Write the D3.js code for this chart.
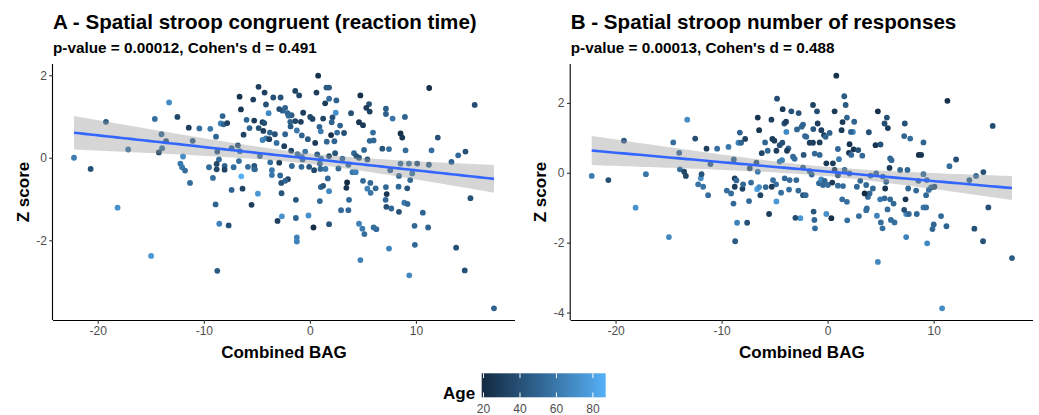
<!DOCTYPE html>
<html>
<head>
<meta charset="utf-8">
<script src="https://cdn.jsdelivr.net/npm/d3@7"></script>
<style>
  body { margin: 0; background: #fff; }
  svg text { font-family: "Liberation Sans", Arial, sans-serif; }
  .tick text { fill: #4d4d4d; font-size: 12px; }
  .title { font-size: 20.6px; font-weight: bold; fill: #000; }
  .subtitle { font-size: 15.3px; font-weight: bold; fill: #000; }
  .axis-title { font-size: 17px; font-weight: bold; fill: #000; }
</style>
</head>
<body>
<div id="chart"></div>
<script>
// [Combined BAG, Z score, Age]
var pointsA = [
  [-22.24,0.00,62],[-20.67,-0.27,40],[-19.23,0.87,45],[-18.13,-1.21,72],[-17.13,0.20,58],
  [-14.97,-2.38,75],[-14.62,0.94,55],[-13.27,1.34,70],[-12.49,0.99,35],[-13.99,0.57,52],
  [-13.56,0.40,42],[-13.93,0.23,58],[-14.24,0.13,35],[-11.96,0.03,70],[-12.21,-0.14,60],
  [-12.05,-0.23,60],[-11.77,-0.31,55],[-11.30,-0.61,55],[-11.42,0.73,30],[-11.05,0.41,48],
  [-10.42,0.71,55],[-9.39,0.70,60],[-8.85,0.51,50],[-8.73,0.15,45],[-8.57,-0.04,55],
  [-8.79,-0.15,35],[-8.79,-0.28,35],[-9.51,-0.23,55],[-9.14,-0.49,55],[-8.89,-1.13,50],
  [-8.54,-1.60,65],[-7.66,-1.64,40],[-8.73,-2.74,45],[-8.23,1.01,50],[-8.41,0.83,65],
  [-8.13,0.81,50],[-7.79,0.84,32],[-8.04,-0.20,50],[-8.04,-0.29,33],[-7.38,0.23,50],
  [-7.19,-0.23,55],[-6.79,0.30,42],[-6.69,-0.08,55],[-6.60,0.16,60],[-7.38,-0.78,50],
  [-6.47,-0.45,87],[-6.35,-0.75,33],[-6.63,1.48,24],[-6.50,1.17,25],[-5.97,0.92,50],
  [-6.25,0.56,33],[-5.69,0.72,50],[-5.34,1.41,30],[-5.25,0.90,28],[-5.84,-0.22,55],
  [-5.25,-0.27,55],[-5.50,-1.14,30],[-4.90,-0.87,75],[-4.84,1.72,30],
  [0.78,1.99,24],[-4.27,1.58,30],[-3.45,1.46,40],[-2.76,1.46,40],[-1.38,1.62,33],
  [-1.01,1.51,35],[0.62,1.58,30],[1.56,1.70,45],[1.81,1.70,45],[1.44,1.32,28],
  [1.81,1.43,55],[2.50,1.39,50],[4.76,1.51,22],[5.58,1.30,40],[5.32,1.21,28],
  [5.64,1.12,30],[11.25,1.69,22],[15.54,1.28,38],[7.17,1.19,48],[7.17,1.06,48],
  [7.80,0.95,58],[8.96,0.99,50],[3.88,1.08,40],[2.44,1.09,72],[2.13,0.98,40],
  [2.06,0.86,50],[2.85,0.78,50],[2.57,0.61,55],[2.00,0.55,22],[3.22,0.60,40],
  [2.31,0.40,50],[1.59,0.39,50],[1.25,0.95,33],[0.90,0.75,50],[1.03,0.64,62],
  [0.25,0.94,33],[0.03,0.99,35],[-0.63,1.09,30],[-0.85,0.87,30],[-1.38,0.89,35],
  [-1.85,0.87,50],[-1.73,1.03,45],[-2.33,1.21,50],[-2.58,1.14,50],[-2.89,1.18,40],
  [-2.10,1.08,50],[-2.01,1.02,52],[-3.89,1.08,68],[-4.14,1.29,40],[-4.46,0.86,30],
  [-4.30,0.84,40],[-4.83,0.72,40],[-4.39,0.65,30],[-3.77,0.61,50],[-3.30,0.57,40],
  [-4.14,0.47,60],[-4.46,0.43,65],[-3.83,0.45,30],[-3.14,0.36,55],[-2.33,0.57,50],
  [-1.82,0.76,45],[-1.23,0.66,60],[-0.76,0.54,50],[-0.19,0.45,45],[0.50,0.36,28],
  [-2.42,0.28,30],[-1.76,0.17,35],[-1.16,0.09,55],[-0.44,0.15,60],[-0.76,0.02,60],
  [-0.69,-0.04,52],[-2.89,-0.12,30],[-4.71,0.04,55],[-3.74,-0.11,55],[-5.24,-0.20,42],
  [-5.18,-0.28,52],[-3.58,-0.30,60],[-3.58,-0.42,60],[-2.80,-0.43,52],[-2.07,-0.52,35],
  [-2.70,-0.61,40],[-2.33,-0.56,50],[-0.79,-0.22,52],[-0.07,-0.22,42],[0.40,-0.30,35],
  [1.00,-0.27,52],[1.47,-0.27,60],[0.69,0.08,45],[0.94,-0.14,52],[1.06,-0.02,62],
  [1.81,0.04,35],[2.38,0.11,42],[2.69,-0.26,52],[3.07,-0.02,52],[3.63,-0.17,52],
  [4.16,0.11,52],[4.38,0.04,42],[4.63,0.00,42],[5.42,-0.04,42],[4.01,-0.35,60],
  [4.32,-0.35,65],[5.01,-0.56,52],[5.70,-0.61,52],[5.42,-0.75,65],[5.73,-0.85,58],
  [6.20,-0.74,52],[3.51,-0.60,19],[3.44,-0.73,25],[1.03,-0.71,52],[1.25,-0.68,42],
  [1.81,-0.81,68],[3.69,-1.02,52],[2.94,-1.27,52],[3.63,-1.27,52],[0.94,-1.05,52],
  [-1.32,-1.02,42],[-2.67,-0.86,42],[-2.64,-1.42,72],[-3.05,-1.53,30],[-1.32,-1.46,50],
  [-0.13,-1.40,72],[0.34,-1.69,22],[1.81,-1.61,42],[-1.23,-1.93,65],[-1.23,-2.03,65],
  [4.63,-1.60,65],[4.95,-1.72,62],[5.14,-1.85,55],[6.01,-1.69,55],[6.27,-1.73,55],
  [4.76,-2.48,65],[7.46,-2.20,65],[7.17,-0.71,52],[7.24,-0.88,25],[7.14,-1.02,52],
  [7.21,-1.19,40],[7.68,-1.23,52],[8.40,-1.31,40],[8.90,-1.09,60],[9.21,-1.12,52],
  [8.36,-0.70,52],[9.18,-0.74,42],[9.46,-0.54,52],[9.65,-0.38,58],[8.40,-0.44,52],
  [7.58,-0.30,52],[8.55,-0.14,55],[9.34,-0.14,55],[10.12,-0.14,42],[11.22,-0.17,50],
  [6.83,0.22,42],[7.46,0.21,55],[9.02,0.18,55],[11.47,0.18,55],[8.55,0.59,22],
  [8.71,0.49,25],[5.95,0.61,55],[5.64,0.41,52],[6.01,0.42,52],[4.63,0.86,25],
  [5.01,0.79,28],[9.87,-1.65,52],[10.65,-1.33,50],[11.15,-1.69,50],[9.90,-2.11,52],
  [9.37,-2.85,68],[12.06,0.49,40],[13.35,-0.10,50],[13.98,0.06,52],[14.67,0.15,40],
  [15.14,-0.98,40],[13.79,-2.18,40],[14.60,-2.73,40],[17.36,-3.65,50],[-1.70,-0.20,52],
  [1.69,-0.50,52],[5.11,0.19,52]
];

var pointsB = [
  [-22.25,-0.09,62],[-20.68,-0.21,40],[-19.21,0.92,45],[-18.11,-1.00,72],[-17.14,-0.04,58],
  [-14.97,-1.84,68],[-14.56,0.87,55],[-13.24,1.52,70],[-12.49,0.98,38],[-14.00,0.57,52],
  [-13.93,0.10,55],[-13.53,0.03,35],[-13.37,-0.09,35],[-12.21,-0.33,58],[-11.96,-0.16,70],
  [-11.89,-0.04,42],[-11.74,-0.40,58],[-11.27,-0.64,55],[-11.42,0.69,30],[-11.05,0.25,48],
  [-10.42,0.69,55],[-9.35,0.74,60],[-9.51,-0.51,55],[-9.10,-0.59,55],[-8.88,-0.88,52],
  [-8.54,-1.43,65],[-8.72,-1.96,45],[-7.59,-1.43,40],[-8.85,0.38,50],[-8.76,-0.16,30],
  [-8.60,-0.22,52],[-8.76,-0.40,30],[-8.03,-0.46,33],[-7.97,-0.33,52],[-8.28,1.15,50],
  [-8.41,0.86,65],[-8.16,0.86,50],[-7.78,0.97,32],[-7.34,0.13,42],[-7.41,-0.81,52],
  [-7.22,-0.28,55],[-6.71,0.29,42],[-6.59,0.03,62],[-6.65,-0.47,80],[-6.46,-0.41,70],
  [-6.34,-0.64,33],[-5.84,-0.41,52],[-6.59,1.58,24],[-6.46,1.22,25],[-5.90,0.87,50],
  [-5.65,0.63,52],[-6.21,0.56,33],[-5.30,1.52,30],[-5.21,0.97,28],[-5.02,0.92,30],
  [-4.83,0.63,30],[-5.15,-0.21,55],[-4.86,-0.33,55],[-5.52,-1.18,30],[-4.83,-0.82,75],
  [-4.77,2.12,38],[-5.27,-0.40,28],[-4.52,0.32,62],
  [0.82,2.78,24],[-4.24,1.82,28],[-3.42,1.76,40],[-2.73,1.71,40],[-1.38,1.94,33],
  [-1.00,1.76,38],[1.57,2.19,45],[1.70,1.94,45],[0.66,1.76,28],[4.74,1.76,22],
  [5.59,1.58,40],[5.37,1.41,38],[5.68,1.28,28],[7.28,1.41,40],[11.30,2.06,22],
  [15.57,1.34,38],[7.22,1.05,50],[7.79,0.98,55],[9.04,0.87,50],[3.89,1.16,40],
  [2.51,1.46,50],[1.82,1.58,50],[1.41,1.45,28],[1.32,1.22,28],[2.39,1.17,72],
  [2.20,1.17,50],[-0.59,1.22,30],[-0.34,1.08,30],[0.19,1.14,50],[-0.19,1.03,50],
  [-0.94,1.41,30],[-1.35,1.25,42],[-2.32,1.38,50],[-2.45,1.32,50],[-2.89,1.24,50],
  [-2.13,1.05,50],[-2.01,1.03,52],[-3.89,1.17,68],[-4.08,1.41,40],[-3.92,1.46,30],
  [-4.27,0.86,40],[-4.52,0.79,40],[-3.70,0.70,52],[-3.26,0.46,52],[-4.30,0.36,65],
  [-3.83,0.63,28],[-3.11,0.40,55],[-2.26,0.51,42],[-1.69,0.86,30],[-1.38,0.86,30],
  [-0.75,0.87,30],[-1.22,0.55,52],[-0.75,0.51,52],[0.97,0.68,52],[1.07,0.39,62],
  [2.07,0.82,25],[2.01,0.57,25],[2.45,0.67,25],[2.89,0.65,40],[2.23,0.51,52],
  [3.27,0.49,52],[4.52,0.79,25],[4.99,0.81,40],[5.90,0.41,52],[6.03,0.36,52],
  [8.60,0.51,22],[8.82,0.51,25],[12.12,0.38,40],[11.49,0.19,55],[13.37,-0.21,50],
  [14.00,-0.09,52],[14.69,0.02,40],[15.16,-0.99,40],[13.84,-1.60,40],[14.66,-1.96,40],
  [17.39,-2.44,45],[10.80,-3.88,70],[4.74,-2.55,68],[7.41,-1.84,65],[9.39,-2.02,68],
  [10.01,-1.48,52],[9.89,-1.61,52],[11.21,-1.53,50],[10.70,-1.24,52],[7.41,-1.18,68],
  [7.22,-1.06,40],[7.66,-1.18,52],[8.41,-1.18,52],[9.04,-0.99,58],[9.29,-0.99,55],
  [7.35,-0.76,25],[8.35,-0.51,52],[7.60,-0.45,52],[9.29,-0.64,52],[9.54,-0.49,58],
  [9.76,-0.42,52],[10.08,-0.40,42],[9.36,-0.21,52],[9.04,-0.04,55],[8.57,-0.23,52],
  [7.53,0.08,52],[6.84,0.08,52],[5.84,0.14,28],[5.43,-0.45,25],[5.53,-0.26,52],
  [5.21,-0.11,52],[4.58,-0.02,52],[4.05,-0.08,52],[4.27,-0.45,52],[3.96,-0.59,52],
  [3.80,-0.69,52],[3.49,-0.59,19],[3.70,-1.02,55],[3.64,-1.07,55],[4.96,-0.76,60],
  [5.37,-0.73,52],[5.90,-0.76,52],[6.22,-0.88,52],[5.65,-1.05,55],[5.97,-1.35,55],
  [6.31,-1.42,55],[4.65,-1.23,65],[5.02,-1.42,55],[5.18,-1.59,55],[2.95,-1.24,55],
  [1.85,-1.36,55],[1.82,-0.83,55],[1.38,-0.76,55],[1.45,-0.38,55],[0.97,-0.37,55],
  [0.35,-1.30,22],[-0.12,-1.18,72],[-1.25,-1.35,52],[-1.19,-1.59,55],[-1.32,-1.11,42],
  [-2.57,-1.30,75],[-3.04,-1.29,38],[-2.32,-0.64,42],[-2.07,-0.64,52],[-2.76,-0.51,52],
  [-3.64,-0.48,55],[-3.58,-0.21,55],[-2.95,-0.21,52],[-4.39,-0.57,55],[-0.81,-0.30,52],
  [-0.44,-0.35,52],[0.03,-0.35,55],[0.44,-0.28,28],[-0.60,-0.19,68],[-0.28,-0.23,52],
  [0.97,-0.07,42],[0.66,0.08,28],[0.50,0.27,28],[-0.12,0.27,28],[1.60,0.08,52],
  [2.07,-0.02,52],[2.76,-0.40,52],[3.08,-0.23,52],[3.64,-0.35,52],[-1.69,0.05,52],
  [-2.32,0.15,52],[-1.50,-0.05,52],[-4.05,-0.16,52]
];

var titles = ["A - Spatial stroop congruent (reaction time)", "B - Spatial stroop number of responses"];
var subtitles = ["p-value = 0.00012, Cohen's d = 0.491", "p-value = 0.00013, Cohen's d = 0.488"];
var xTicks = [-20, -10, 0, 10];
var yTicksA = [-2, 0, 2];
var yTicksB = [-4, -2, 0, 2];
var ageTicks = [20, 40, 60, 80];

var W = 1039, H = 415;
var svg = d3.select("#chart").append("svg").attr("width", W).attr("height", H);

var allAges = pointsA.concat(pointsB).map(function (d) { return d[2]; });
var color = d3.scaleLinear()
    .domain(d3.extent(allAges))
    .range(["#132B43", "#56B1F7"])
    .interpolate(d3.interpolateLab);

// plain hyphen minus, no decimals, like R
var plain = function (d) { return String(d); };

// ggplot-style 5% expansion of the data range
function expand(ext) {
  var r = ext[1] - ext[0];
  return [ext[0] - r * 0.05, ext[1] + r * 0.05];
}

// least squares fit with 95% confidence band (like geom_smooth(method = "lm"))
function fitLm(pts) {
  var n = pts.length;
  var mx = d3.mean(pts, function (d) { return d[0]; });
  var my = d3.mean(pts, function (d) { return d[1]; });
  var sxx = d3.sum(pts, function (d) { return (d[0] - mx) * (d[0] - mx); });
  var sxy = d3.sum(pts, function (d) { return (d[0] - mx) * (d[1] - my); });
  var b = sxy / sxx, a = my - b * mx;
  var sse = d3.sum(pts, function (d) { var e = d[1] - a - b * d[0]; return e * e; });
  var s = Math.sqrt(sse / (n - 2));
  var df = n - 2, z = 1.959964;
  var t = z + (z * z * z + z) / (4 * df);
  var ext = d3.extent(pts, function (d) { return d[0]; });
  var grid = d3.range(80).map(function (i) { return ext[0] + (ext[1] - ext[0]) * i / 79; });
  return grid.map(function (x) {
    var yhat = a + b * x;
    var se = s * Math.sqrt(1 / n + (x - mx) * (x - mx) / sxx);
    return { x: x, y: yhat, lo: yhat - t * se, hi: yhat + t * se };
  });
}

function panel(pts, left, right, top, bottom, yTicks, title, subtitle) {
  var g = svg.append("g");
  var x = d3.scaleLinear()
      .domain(expand(d3.extent(pts, function (d) { return d[0]; })))
      .range([left, right]);
  var y = d3.scaleLinear()
      .domain(expand(d3.extent(pts, function (d) { return d[1]; })))
      .range([bottom, top]);

  g.append("g").selectAll("circle")
    .data(pts)
    .enter().append("circle")
      .attr("cx", function (d) { return x(d[0]); })
      .attr("cy", function (d) { return y(d[1]); })
      .attr("r", 2.9)
      .attr("fill", function (d) { return color(d[2]); });

  var fit = fitLm(pts);
  g.append("path")
    .datum(fit)
    .attr("fill", "#999999")
    .attr("fill-opacity", 0.4)
    .attr("d", d3.area()
      .x(function (d) { return x(d.x); })
      .y0(function (d) { return y(d.lo); })
      .y1(function (d) { return y(d.hi); }));
  g.append("path")
    .datum(fit)
    .attr("fill", "none")
    .attr("stroke", "#3366FF")
    .attr("stroke-width", 2.6)
    .attr("d", d3.line()
      .x(function (d) { return x(d.x); })
      .y(function (d) { return y(d.y); }));

  var xa = g.append("g")
      .attr("transform", "translate(0," + bottom + ")")
      .call(d3.axisBottom(x).tickValues(xTicks).tickFormat(plain).tickSize(3.7).tickPadding(2.5));
  var ya = g.append("g")
      .attr("transform", "translate(" + left + ",0)")
      .call(d3.axisLeft(y).tickValues(yTicks).tickFormat(plain).tickSize(3.7).tickPadding(2.5));
  [xa, ya].forEach(function (a) {
    a.select(".domain").attr("stroke", "#000").attr("stroke-width", 1.1);
    a.selectAll(".tick line").attr("stroke", "#333").attr("stroke-width", 1.1);
    a.selectAll(".tick text").attr("font-family", null).attr("font-size", null);
  });
  // ggplot draws the axis line from the panel edge, without end ticks
  xa.select(".domain").attr("d", "M" + left + ",0.5H" + right);
  ya.select(".domain").attr("d", "M-0.5," + top + "V" + bottom);

  g.append("text").attr("class", "title")
    .attr("x", left).attr("y", 29).text(title);
  g.append("text").attr("class", "subtitle")
    .attr("x", left).attr("y", 53).text(subtitle);
  g.append("text").attr("class", "axis-title")
    .attr("text-anchor", "middle")
    .attr("x", (left + right) / 2).attr("y", 358)
    .text("Combined BAG");
  g.append("text").attr("class", "axis-title")
    .attr("text-anchor", "middle")
    .attr("transform", "translate(" + (left - 24.5) + "," + ((top + bottom) / 2) + ") rotate(-90)")
    .text("Z score");
}

panel(pointsA, 53, 515, 64, 320, yTicksA, titles[0], subtitles[0]);
panel(pointsB, 570.7, 1033, 64, 320, yTicksB, titles[1], subtitles[1]);

// colour bar legend
var lx0 = 481.7, lx1 = 605.7, ly0 = 373.3, ly1 = 397.3;
var ageX = d3.scaleLinear().domain(color.domain()).range([lx0, lx1]);
var grad = svg.append("defs").append("linearGradient").attr("id", "ageGrad");
grad.selectAll("stop")
  .data(d3.range(21).map(function (i) { return i / 20; }))
  .enter().append("stop")
    .attr("offset", function (d) { return d; })
    .attr("stop-color", function (d) {
      var dom = color.domain();
      return color(dom[0] + (dom[1] - dom[0]) * d);
    });
svg.append("rect")
  .attr("x", lx0).attr("y", ly0)
  .attr("width", lx1 - lx0).attr("height", ly1 - ly0)
  .attr("fill", "url(#ageGrad)");
var lt = svg.append("g").selectAll("g").data(ageTicks).enter().append("g");
lt.append("line")
  .attr("x1", function (d) { return ageX(d); }).attr("x2", function (d) { return ageX(d); })
  .attr("y1", ly0).attr("y2", ly0 + 4.8)
  .attr("stroke", "#fff").attr("stroke-width", 1);
lt.append("line")
  .attr("x1", function (d) { return ageX(d); }).attr("x2", function (d) { return ageX(d); })
  .attr("y1", ly1 - 4.8).attr("y2", ly1)
  .attr("stroke", "#fff").attr("stroke-width", 1);
lt.append("text")
  .attr("x", function (d) { return ageX(d); }).attr("y", 413)
  .attr("text-anchor", "middle")
  .attr("font-size", 12).attr("fill", "#4d4d4d")
  .text(function (d) { return d; });
svg.append("text")
  .attr("class", "axis-title")
  .attr("x", 443).attr("y", 399)
  .text("Age");
</script>
</body>
</html>
